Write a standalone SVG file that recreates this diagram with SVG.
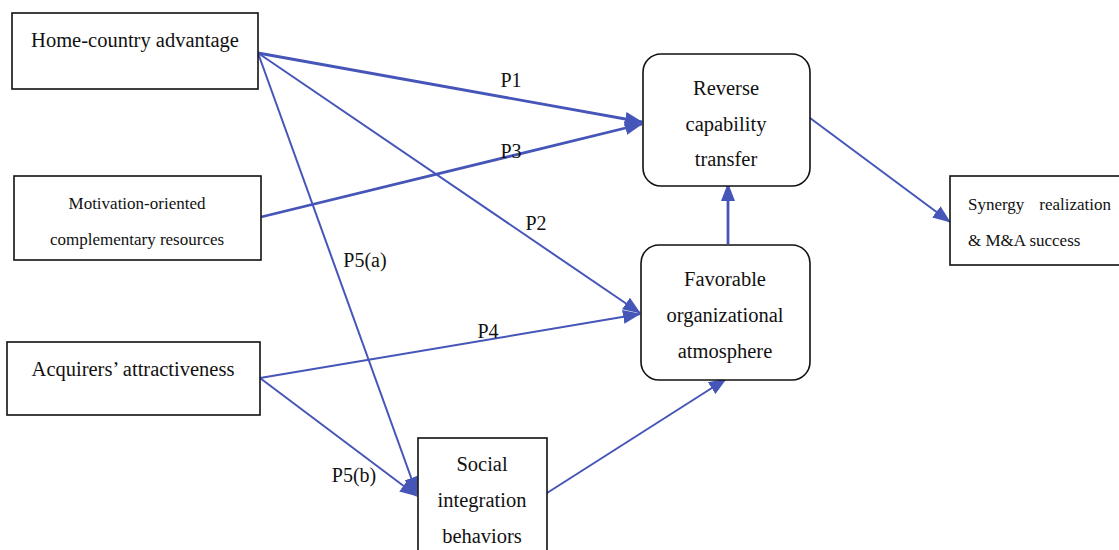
<svg xmlns="http://www.w3.org/2000/svg" width="1119" height="550" viewBox="0 0 1119 550">
<style>
.box{fill:#fff;stroke:#111;stroke-width:1.6}
text{font-family:"Liberation Serif","Times New Roman","DejaVu Serif",serif;fill:#111}
.t{font-size:20.5px;text-anchor:middle}
.ts{font-size:17px;text-anchor:middle}
.lbl{font-size:20px;text-anchor:middle}
.c{fill:none;stroke:#4655b8;stroke-width:2;marker-end:url(#ah)}
.ct{stroke-width:2.8}
</style>
<defs>
<marker id="ah" markerUnits="userSpaceOnUse" markerWidth="18" markerHeight="14" viewBox="0 0 18 14" refX="17" refY="7" orient="auto">
<path d="M0,0 L18,7 L0,14 z" fill="#4655b8"/>
</marker>
</defs>
<rect width="1119" height="550" fill="#fff"/>
<g id="connectors">
<line class="c ct" x1="258" y1="53" x2="642" y2="122"/>
<line class="c ct" x1="261" y1="217" x2="642" y2="124"/>
<line class="c" x1="258" y1="53" x2="640" y2="313"/>
<line class="c" x1="258" y1="53" x2="417" y2="494"/>
<line class="c" x1="260" y1="378" x2="640" y2="314"/>
<line class="c" x1="260" y1="378" x2="417" y2="496"/>
<line class="c" x1="547" y1="493" x2="726" y2="379"/>
<line class="c ct" x1="728" y1="244" x2="728" y2="184"/>
<line class="c" x1="810" y1="118" x2="950" y2="222"/>
</g>
<g id="labels">
<text class="lbl" x="511" y="87">P1</text>
<text class="lbl" x="511" y="158">P3</text>
<text class="lbl" x="536" y="230">P2</text>
<text class="lbl" x="365" y="267">P5(a)</text>
<text class="lbl" x="488" y="338">P4</text>
<text class="lbl" x="354" y="482">P5(b)</text>
</g>
<g id="home">
<rect class="box" x="12" y="13" width="246" height="76"/>
<text class="t" x="135" y="47">Home-country advantage</text>
</g>
<g id="motivation">
<rect class="box" x="14" y="176" width="247" height="84"/>
<text class="ts" x="137" y="209">Motivation-oriented</text>
<text class="ts" x="137" y="245">complementary resources</text>
</g>
<g id="acquirers">
<rect class="box" x="7" y="342" width="253" height="73"/>
<text class="t" x="133" y="376">Acquirers’ attractiveness</text>
</g>
<g id="social">
<rect class="box" x="418" y="438" width="129" height="120"/>
<text class="t" x="482" y="471">Social</text>
<text class="t" x="482" y="507">integration</text>
<text class="t" x="482" y="543">behaviors</text>
</g>
<g id="reverse">
<rect class="box" x="643" y="54" width="167" height="132" rx="18"/>
<text class="t" x="726" y="95">Reverse</text>
<text class="t" x="726" y="131">capability</text>
<text class="t" x="726" y="166">transfer</text>
</g>
<g id="favorable">
<rect class="box" x="641" y="245" width="169" height="135" rx="18"/>
<text class="t" x="725" y="286">Favorable</text>
<text class="t" x="725" y="322">organizational</text>
<text class="t" x="725" y="358">atmosphere</text>
</g>
<g id="synergy">
<rect class="box" x="950" y="176" width="175" height="89"/>
<text class="ts" x="968" y="210" style="text-anchor:start">Synergy<tspan x="1111" style="text-anchor:end">realization</tspan></text>
<text class="ts" x="968" y="246" style="text-anchor:start">&amp; M&amp;A success</text>
</g>
</svg>
